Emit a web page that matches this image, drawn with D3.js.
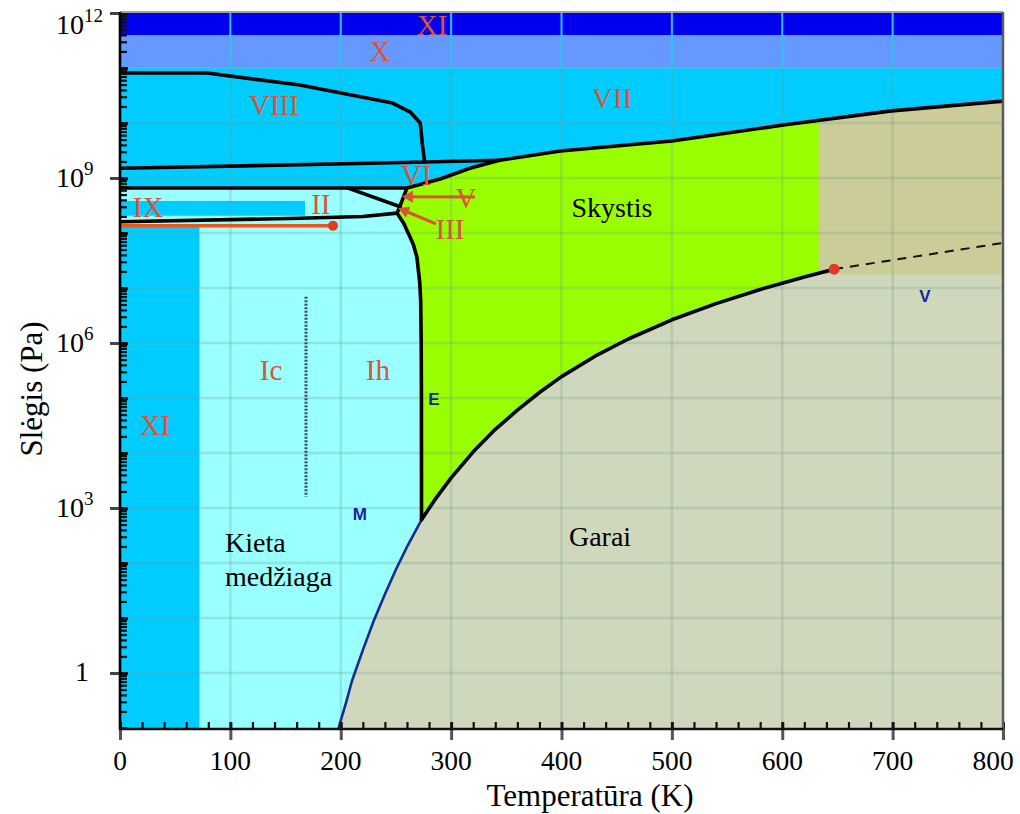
<!DOCTYPE html>
<html>
<head>
<meta charset="utf-8">
<script src="https://cdn.jsdelivr.net/npm/d3@7"></script>
<style>
  body { margin: 0; background: #fff; }
  svg { display: block; }
</style>
</head>
<body>
<svg id="chart" width="1020" height="814"></svg>
<script>
// ---- Axis ticks ----
const tempTicks = [0, 100, 200, 300, 400, 500, 600, 700, 800];
const pressureTickValues = [1, 1e3, 1e6, 1e9, 1e12];
const pressureTickExponents = ["", "3", "6", "9", "12"];

// ---- Phase boundaries: [temperature K, pressure Pa] ----
const sublimationCurve = [[198, 0.1], [205, 0.3], [210, 0.7], [220, 2.6], [230, 9], [240, 27], [250, 76], [260, 196], [273.16, 611]];
const vaporCurve = [[273.16, 611], [285, 1390], [300, 3540], [320, 10500], [340, 27000], [360, 60000], [380, 126000], [400, 245000], [430, 570000], [460, 1170000], [500, 2640000], [540, 5200000], [580, 9400000], [620, 15900000], [647, 22000000]];
const criticalPoint = [647, 2.2e7];
const supercriticalLine = [[647, 2.2e7], [800, 6.6e7]];
const iceIhMelting = [[273.16, 611], [273.1, 1e5], [272.9, 1e6], [272.4, 6e6], [271.5, 1.3e7], [269, 3.6e7], [266, 6e7], [262.7, 8.5e7], [257, 1.5e8], [251, 2.3e8]];
const iceIIBoundary = [[0, 1.6e8], [163, 1.85e8], [220, 2.0e8], [251, 2.3e8]];
const iceIXLine = [[0, 1.35e8], [193, 1.35e8]];
const iceIXEnd = [193, 1.35e8];
const iceVIBoundary = [[0, 6.6e8], [260, 6.6e8]];
const iceIIVBoundary = [[206, 6.6e8], [254, 3.0e8]];
const iceVILiquid = [[251, 2.3e8], [254, 3.2e8], [260, 6.6e8], [290, 9.6e8], [317, 1.5e9], [344, 2.1e9]];
const iceVIVIIBoundary = [[0, 1.5e9], [226, 1.85e9], [276, 1.95e9], [344, 2.1e9]];
const iceVIIMelting = [[344, 2.1e9], [399, 3.1e9], [500, 4.7e9], [601, 9.2e9], [699, 1.66e10], [800, 2.5e10]];
const iceVIIIBoundary = [[0, 8.1e10], [79, 8.1e10], [163, 4.9e10], [247, 2.3e10], [263, 1.58e10], [272, 1e10], [274, 4e9], [276, 1.95e9]];
const icIhDivider = [[168.5, 6.9e6], [168.5, 1.6e3]];

// ---- Band-shaped phases: [Tmin, Tmax, Pmin, Pmax] ----
const iceXIHighBand = [0, 800, 4e11, null];
const iceXBand = [0, 800, 1e11, 4e11];
const iceIXBand = [0, 167.6, 2.05e8, 3.8e8];
const iceXIColumn = [0, 72, null, 1.35e8];
const supercriticalBox = [633, 800, 1.78e7, null];

// ---- Annotations: [text, T, P] ----
const phaseLabels = [
  ["XI", 282.7, 4e11], ["X", 235.5, 1.35e11], ["VIII", 139.5, 1.4e10], ["VII", 445.7, 1.86e10],
  ["VI", 268.2, 7.5e8], ["V", 313.5, 2.85e8], ["III", 299, 7.8e7], ["II", 182, 2.2e8],
  ["IX", 25.4, 1.95e8], ["Ic", 136.8, 2.1e5], ["Ih", 233.7, 2.1e5], ["XI", 31.7, 2.1e4]
];
const stateLabels = [["Skystis", 445.7, 1.95e8], ["Garai", 434.9, 204]];
const solidLabelLines = [["Kieta", 95.1, 158], ["medžiaga", 95.1, 38]];
const markerLabels = [["E", 284.5, 7.5e4], ["M", 217.4, 600], ["V", 729.3, 5.6e6]];
const arrows = [
  [[321.6, 4.5e8], [255.4, 4.6e8]],
  [[286.3, 1.46e8], [251.9, 2.85e8]]
];

// ---- Colours ----
const C = {
  vapor: "#cfd8bc", supercritical: "#cccc99", liquid: "#99ff00",
  iceLight: "#99ffff", ice: "#00ccff", iceX: "#6699ff", iceXI: "#0000ee",
  label: "#d9553a", blueLabel: "#1c2596"
};

const svg = d3.select("#chart");
const x = d3.scaleLinear().domain([0, 800]).range([120, 1003]);
const y = d3.scaleLog().domain([1e-1, 1e12]).range([728, 13]);
const Pbot = y.invert(729), Ptop = y.invert(12);

const line = d3.line().x(d => x(d[0])).y(d => y(d[1]));
const poly = pts => line(pts) + "Z";

const plot = svg.append("g");
const clip = svg.append("clipPath").attr("id", "plotclip");
clip.append("rect").attr("x", x(0)).attr("y", 12).attr("width", x(800) - x(0)).attr("height", 729 - 12);
plot.attr("clip-path", "url(#plotclip)");

function band(b, color) {
  const [t0, t1, p0, p1] = b;
  plot.append("path")
    .attr("d", poly([[t0, p0 ?? Pbot], [t1, p0 ?? Pbot], [t1, p1 ?? Ptop], [t0, p1 ?? Ptop]]))
    .attr("fill", color);
}

// vapour background
band([0, 800, null, null], C.vapor);

// liquid
plot.append("path")
  .attr("d", poly([[240, 611], ...vaporCurve, [647, 1e11], [240, 1e11]]))
  .attr("fill", C.liquid);

// supercritical fluid
band(supercriticalBox, C.supercritical);

// low-pressure ices (Ih, Ic, II, III, V)
plot.append("path")
  .attr("d", poly([[0, Pbot], [sublimationCurve[0][0], Pbot], ...sublimationCurve, ...iceIhMelting.slice(1),
    ...iceVILiquid.slice(1, 3), [0, iceVIBoundary[0][1]]]))
  .attr("fill", C.iceLight);

band(iceXIColumn, C.ice);
band(iceIXBand, C.ice);

// ices VI, VII, VIII
plot.append("path")
  .attr("d", poly([...iceVIBoundary, ...iceVILiquid.slice(3), ...iceVIIMelting.slice(1), [800, Ptop], [0, Ptop]]))
  .attr("fill", C.ice);

band(iceXBand, C.iceX);
band(iceXIHighBand, C.iceXI);

// ---- grid ----
const decades = d3.range(0, 12).map(e => Math.pow(10, e));
const grid = plot.append("g").attr("stroke", "rgba(110,160,140,0.28)").attr("stroke-width", 2.5);
tempTicks.slice(1, -1).forEach(t =>
  grid.append("line").attr("x1", x(t)).attr("x2", x(t)).attr("y1", y(iceXBand[2])).attr("y2", 729));
decades.forEach(p =>
  grid.append("line").attr("x1", x(0)).attr("x2", x(800)).attr("y1", y(p)).attr("y2", y(p)));
const gridTop = plot.append("g").attr("stroke", "#2cc4ee").attr("stroke-width", 2);
tempTicks.slice(1, -1).forEach(t =>
  gridTop.append("line").attr("x1", x(t)).attr("x2", x(t)).attr("y1", 12).attr("y2", y(iceXBand[2])));
gridTop.append("line").attr("x1", x(0)).attr("x2", x(800)).attr("y1", y(iceXBand[2])).attr("y2", y(iceXBand[2]));

// Ic / Ih divider
plot.append("path").attr("d", line(icIhDivider))
  .attr("stroke", "#3d4f5e").attr("stroke-width", 3).attr("stroke-dasharray", "2,1.5").attr("fill", "none");

// ---- boundaries ----
const boundaryG = plot.append("g").attr("fill", "none").attr("stroke-linejoin", "round").attr("stroke-linecap", "round");
boundaryG.append("path").attr("d", line(sublimationCurve)).attr("stroke", "#1c2a8c").attr("stroke-width", 2.6);
boundaryG.append("path").attr("d", line(supercriticalLine)).attr("stroke", "#111").attr("stroke-width", 2)
  .attr("stroke-dasharray", "9,7").attr("stroke-linecap", "butt");
boundaryG.append("path").attr("d", line(iceIXLine)).attr("stroke", "#ee5518").attr("stroke-width", 3.5);
[vaporCurve, iceIhMelting, iceIIBoundary, iceVIBoundary, iceIIVBoundary, iceVILiquid, iceVIVIIBoundary, iceVIIMelting, iceVIIIBoundary]
  .forEach(c => boundaryG.append("path").attr("d", line(c)).attr("stroke", "#000").attr("stroke-width", 3.6));

// points
plot.append("circle").attr("cx", x(iceIXEnd[0])).attr("cy", y(iceIXEnd[1])).attr("r", 5).attr("fill", "#e33a22");
plot.append("circle").attr("cx", x(criticalPoint[0])).attr("cy", y(criticalPoint[1])).attr("r", 5.5).attr("fill", "#e23a2a");

// ---- arrows ----
const arrowG = svg.append("g").attr("stroke", C.label).attr("fill", C.label);
arrows.forEach(([from, to]) => {
  const x0 = x(from[0]), y0 = y(from[1]), x1 = x(to[0]), y1 = y(to[1]);
  const a = Math.atan2(y1 - y0, x1 - x0);
  const hl = 11, hw = 6;
  const bx = x1 - hl * Math.cos(a), by = y1 - hl * Math.sin(a);
  arrowG.append("line").attr("x1", x0).attr("y1", y0).attr("x2", bx).attr("y2", by).attr("stroke-width", 3);
  arrowG.append("path").attr("stroke", "none")
    .attr("d", `M${x1},${y1}L${bx + hw * Math.sin(a)},${by - hw * Math.cos(a)}L${bx - hw * Math.sin(a)},${by + hw * Math.cos(a)}Z`);
});

// ---- labels ----
const serif = "'Liberation Serif', 'Times New Roman', serif";
svg.append("g").selectAll("text").data(phaseLabels).join("text")
  .attr("x", d => x(d[1])).attr("y", d => y(d[2]))
  .attr("text-anchor", "middle").attr("font-family", serif).attr("font-size", 29)
  .attr("fill", C.label).text(d => d[0]);

svg.append("g").selectAll("text").data(stateLabels).join("text")
  .attr("x", d => x(d[1])).attr("y", d => y(d[2]))
  .attr("text-anchor", "middle").attr("font-family", serif).attr("font-size", 28)
  .attr("fill", "#000").text(d => d[0]);

svg.append("g").selectAll("text").data(solidLabelLines).join("text")
  .attr("x", d => x(d[1])).attr("y", d => y(d[2]))
  .attr("font-family", serif).attr("font-size", 28).attr("fill", "#000").text(d => d[0]);

svg.append("g").selectAll("text").data(markerLabels).join("text")
  .attr("x", d => x(d[1])).attr("y", d => y(d[2]))
  .attr("text-anchor", "middle").attr("font-family", "'Liberation Sans', Arial, sans-serif")
  .attr("font-weight", "bold").attr("font-size", 17).attr("fill", C.blueLabel).text(d => d[0]);

// ---- axes ----
const axisG = svg.append("g");
const minorP = [];
for (let e = -1; e < 12; e++) for (let k = 2; k <= 9; k++) minorP.push(k * Math.pow(10, e));
const majorP = d3.range(-1, 13).map(e => Math.pow(10, e));
const minorT = d3.range(0, 801, 20).filter(t => t % 100 !== 0);

function styleAxis(g, w) {
  g.select(".domain").remove();
  g.selectAll(".tick line").attr("stroke", "#111").attr("stroke-width", w);
}
axisG.append("g").attr("transform", "translate(120,0)")
  .call(d3.axisRight(y).tickValues(minorP).tickSize(7).tickFormat(""))
  .call(g => styleAxis(g, 2.2));
axisG.append("g").attr("transform", "translate(120,0)")
  .call(d3.axisRight(y).tickValues(majorP).tickSize(8).tickFormat(""))
  .call(g => styleAxis(g, 3));
axisG.append("g").attr("transform", "translate(120,0)")
  .call(d3.axisLeft(y).tickValues(pressureTickValues).tickSize(10).tickFormat(""))
  .call(g => styleAxis(g, 3))
  .call(g => g.selectAll(".tick line").attr("stroke", "#444"));

axisG.append("g").attr("transform", "translate(0,729)")
  .call(d3.axisTop(x).tickValues(minorT).tickSize(7).tickFormat(""))
  .call(g => styleAxis(g, 2.2));
axisG.append("g").attr("transform", "translate(0,729)")
  .call(d3.axisTop(x).tickValues(tempTicks).tickSize(7).tickFormat(""))
  .call(g => styleAxis(g, 3));
axisG.append("g").attr("transform", "translate(0,729)")
  .call(d3.axisBottom(x).tickValues(tempTicks).tickSize(11).tickFormat(""))
  .call(g => styleAxis(g, 3))
  .call(g => g.selectAll(".tick line").attr("stroke", "#555"));

// frame
svg.append("line").attr("x1", x(0)).attr("x2", x(800)).attr("y1", 12).attr("y2", 12).attr("stroke", "#a3a3a3").attr("stroke-width", 2);
svg.append("line").attr("x1", x(800)).attr("x2", x(800)).attr("y1", 12).attr("y2", 729).attr("stroke", "#5b5b5b").attr("stroke-width", 2.5);
svg.append("line").attr("x1", 120).attr("x2", 120).attr("y1", 12).attr("y2", 730).attr("stroke", "#000").attr("stroke-width", 2.6);
svg.append("line").attr("x1", 119).attr("x2", x(800)).attr("y1", 729).attr("y2", 729).attr("stroke", "#111").attr("stroke-width", 2.6);

// tick labels (the last one is kept inside the page edge)
svg.append("g").selectAll("text").data(tempTicks).join("text")
  .attr("x", d => Math.min(x(d), 993)).attr("y", 770).attr("text-anchor", "middle")
  .attr("font-family", serif).attr("font-size", 27.5).attr("fill", "#000").text(d => d);

const yLab = svg.append("g").attr("font-family", serif).attr("fill", "#000");
pressureTickValues.forEach((v, i) => {
  const ty = Math.max(y(v), 25);
  const exp = pressureTickExponents[i];
  if (!exp) {
    yLab.append("text").attr("x", 89).attr("y", ty + 8).attr("text-anchor", "end").attr("font-size", 28).text("1");
  } else {
    const t = yLab.append("text").attr("x", 56).attr("y", ty + 9).attr("font-size", 28);
    t.append("tspan").text("10");
    t.append("tspan").attr("font-size", 19).attr("dy", -12).text(exp);
  }
});

// axis titles
svg.append("text").attr("x", 590).attr("y", 806).attr("text-anchor", "middle")
  .attr("font-family", serif).attr("font-size", 31).attr("fill", "#000").text("Temperatūra (K)");
svg.append("text").attr("transform", "translate(42,389) rotate(-90)").attr("text-anchor", "middle")
  .attr("font-family", serif).attr("font-size", 31).attr("fill", "#000").text("Slėgis (Pa)");
</script>
</body>
</html>
